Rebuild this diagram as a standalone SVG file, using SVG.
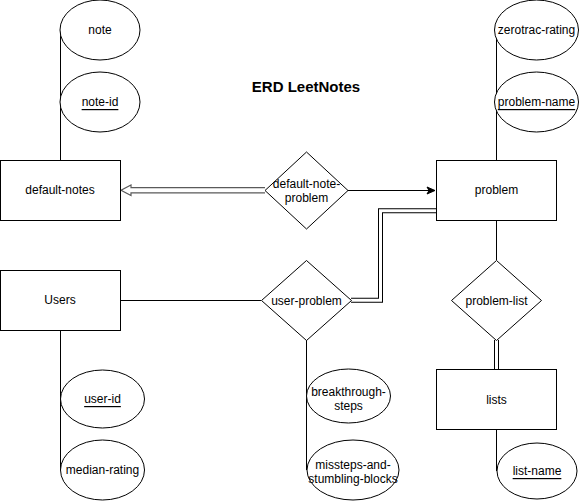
<svg xmlns="http://www.w3.org/2000/svg" width="581" height="501" viewBox="0 0 581 501">
<style>
.s{fill:#fff;stroke:#000;stroke-width:1}
.t{font-family:"Liberation Sans",Arial,sans-serif;font-size:12px;fill:#000;text-anchor:middle;dominant-baseline:central}
.u{text-decoration:underline}
.l{fill:none;stroke:#000;stroke-width:1}
.dbo{fill:none;stroke:#000;stroke-width:5}
.dbi{fill:none;stroke:#fff;stroke-width:3}
</style>
<defs>
<marker id="ah" markerWidth="10" markerHeight="10" refX="9" refY="5" orient="auto" markerUnits="userSpaceOnUse">
<path d="M1,1.5 L9,5 L1,8.5 L3,5 Z" fill="#000" stroke="#000"/>
</marker>
</defs>
<rect width="581" height="501" fill="#fff"/>
<g id="connectors">
<path class="l" d="M60.5,30 V160"/>
<path class="l" d="M496.5,30 V160"/>
<path class="l" d="M60.5,330 V470"/>
<path class="l" d="M306.5,340 V470"/>
<path class="l" d="M496.5,429 V471"/>
<path class="l" d="M496.5,220 V260"/>
<path class="l" d="M120,300.5 H261"/>
<path class="l" d="M348,190.5 H435" marker-end="url(#ah)"/>
<path class="dbo" d="M496.5,340 V369"/>
<path class="dbi" d="M496.5,340 V369"/>
<path class="dbo" d="M351,300.3 H380.5 V210.7 H436.5"/>
<path class="dbi" d="M351,300.3 H380.5 V210.7 H436.5"/>
<path d="M265,187.7 H131 V185 L121,190.3 L131,195.6 V192.8 H265" fill="#fff" stroke="#5a5a5a" stroke-width="1.2"/>
</g>
<g id="note"><ellipse class="s" cx="100" cy="30" rx="40" ry="30"/><text class="t" x="100" y="30">note</text></g>
<g id="note-id"><ellipse class="s" cx="100" cy="102" rx="40" ry="30"/><text class="t u" x="100" y="102">note-id</text></g>
<g id="default-notes"><rect class="s" x="0.5" y="160.5" width="120" height="60"/><text class="t" x="60" y="190">default-notes</text></g>
<g id="default-note-problem"><path class="s" d="M306.5,152 L348,190.5 L306.5,229 L265,190.5 Z"/><text class="t" x="306.5" y="183.5">default-note-</text><text class="t" x="306.5" y="197.5">problem</text></g>
<g id="zerotrac-rating"><ellipse class="s" cx="536.5" cy="30" rx="42" ry="30"/><text class="t" x="536.5" y="30">zerotrac-rating</text></g>
<g id="problem-name"><ellipse class="s" cx="536.5" cy="102" rx="42" ry="30"/><text class="t u" x="536.5" y="102">problem-name</text></g>
<g id="problem"><rect class="s" x="436.5" y="160.5" width="120" height="60"/><text class="t" x="496.5" y="190">problem</text></g>
<g id="users"><rect class="s" x="0.5" y="270.5" width="120" height="60"/><text class="t" x="60" y="300">Users</text></g>
<g id="user-problem"><path class="s" d="M306.5,260.5 L351.5,300.5 L306.5,340.5 L261.5,300.5 Z"/><text class="t" x="306.5" y="300.5">user-problem</text></g>
<g id="problem-list"><path class="s" d="M496.5,260.5 L541.5,300.5 L496.5,340.5 L451.5,300.5 Z"/><text class="t" x="496.5" y="300.5">problem-list</text></g>
<g id="lists"><rect class="s" x="436.5" y="369.5" width="120" height="60"/><text class="t" x="496.5" y="399.5">lists</text></g>
<g id="list-name"><ellipse class="s" cx="537" cy="471" rx="40" ry="28"/><text class="t u" x="537" y="471">list-name</text></g>
<g id="user-id"><ellipse class="s" cx="102.5" cy="399" rx="42" ry="29"/><text class="t u" x="102.5" y="399">user-id</text></g>
<g id="median-rating"><ellipse class="s" cx="102.5" cy="470" rx="42" ry="30"/><text class="t" x="102.5" y="470">median-rating</text></g>
<g id="breakthrough-steps"><ellipse class="s" cx="348.5" cy="396" rx="42" ry="27"/><text class="t" x="348.5" y="392">breakthrough-</text><text class="t" x="348.5" y="406">steps</text></g>
<g id="missteps"><ellipse class="s" cx="353" cy="470" rx="46" ry="30"/><text class="t" x="353" y="464.5">missteps-and-</text><text class="t" x="353" y="478.5">stumbling-blocks</text></g>
<g id="title"><text x="306" y="86" style="font-family:'Liberation Sans',Arial,sans-serif;font-size:15px;font-weight:bold;text-anchor:middle;dominant-baseline:central">ERD LeetNotes</text></g>
</svg>
